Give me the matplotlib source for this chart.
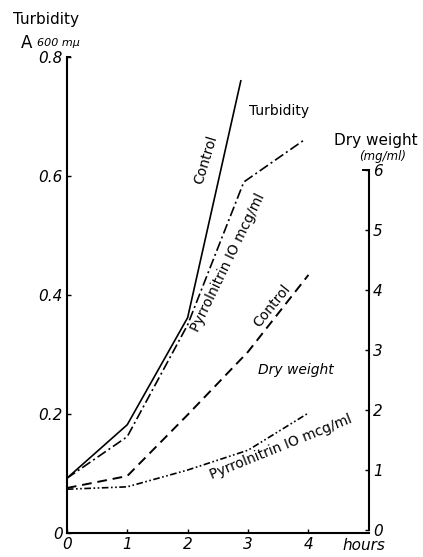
"""
Turbidity and dry weight growth curves, control vs pyrrolnitrin 10 mcg/ml.
Saves out.png.
"""

import matplotlib.pyplot as plt

# turbidity (A 600 mu), left axis
turb_ctrl_h = [0, 1, 2, 2.88]
turb_ctrl = [0.092, 0.182, 0.362, 0.76]
turb_pyr_h = [0, 1, 2, 2.93, 3.92]
turb_pyr = [0.092, 0.162, 0.35, 0.59, 0.66]

# dry weight (mg/ml), right axis
dry_h = [0, 1, 2, 3, 4]
dry_ctrl = [0.70, 0.90, 1.92, 2.97, 4.25]
dry_pyr = [0.68, 0.72, 1.0, 1.33, 1.95]

x_ticks = [0, 1, 2, 3, 4]
left_ticks = [0, 0.2, 0.4, 0.6, 0.8]
left_labels = ["0", "0.2", "0.4", "0.6", "0.8"]
right_ticks = [0, 1, 2, 3, 4, 5, 6]

FONT = "DejaVu Sans"


def main():
    plt.rcParams["font.family"] = FONT
    fig = plt.figure(figsize=(4.23, 5.57), dpi=100)
    ax = fig.add_axes([0.158, 0.043, 0.714, 0.8546])
    ax2 = ax.twinx()

    ax.set_xlim(0, 5)
    ax.set_ylim(0, 0.8)
    ax2.set_ylim(-0.05, 7.88)

    k = "black"
    ax.plot(turb_ctrl_h, turb_ctrl, color=k, lw=1.2)
    ax.plot(turb_pyr_h, turb_pyr, color=k, lw=1.2, dashes=(6, 2, 1.2, 2))
    ax2.plot(dry_h, dry_ctrl, color=k, lw=1.4, dashes=(5, 3))
    ax2.plot(dry_h, dry_pyr, color=k, lw=1.2, dashes=(4, 1.5, 1, 1.5, 1, 1.5))

    # axes look
    for a in (ax, ax2):
        a.spines["top"].set_visible(False)
    ax.spines["right"].set_visible(False)
    ax2.spines["left"].set_visible(False)
    ax2.spines["bottom"].set_visible(False)
    ax.spines["left"].set_linewidth(1.5)
    ax.spines["bottom"].set_linewidth(1.5)
    ax2.spines["right"].set_linewidth(1.5)
    ax2.spines["right"].set_bounds(0, 6)

    ax.set_xticks(x_ticks)
    ax.set_xticklabels([str(t) for t in x_ticks], fontsize=11, style="italic")
    ax.set_yticks(left_ticks)
    ax.set_yticklabels(left_labels, fontsize=11, style="italic")
    ax.tick_params(axis="both", direction="in", length=3, width=1, pad=3)
    ax2.set_yticks(right_ticks)
    ax2.set_yticklabels([str(t) for t in right_ticks], fontsize=11, style="italic")
    ax2.tick_params(axis="y", direction="in", length=3, width=1, pad=3)

    # little hooks on the tops of the vertical axes
    ax.plot([0, 0.06], [0.8, 0.8], color=k, lw=1.4, clip_on=False)
    ax2.plot([5, 4.9], [6, 6], color=k, lw=1.4, clip_on=False)

    # axis titles
    fig.text(0.03, 0.965, "Turbidity", fontsize=11, ha="left", va="center")
    fig.text(0.05, 0.922, "A", fontsize=12, ha="left", va="center")
    fig.text(0.088, 0.922, "600 m\u03bc", fontsize=8, style="italic",
             ha="left", va="center")
    fig.text(0.79, 0.748, "Dry weight", fontsize=11, ha="left", va="center")
    fig.text(0.85, 0.719, "(mg/ml)", fontsize=8.5, style="italic",
             ha="left", va="center")
    fig.text(0.81, 0.02, "hours", fontsize=11, style="italic",
             ha="left", va="center")

    # curve labels (figure pixel coords from the top left)
    def lab(px, py, s, rot, size=10, style="normal"):
        fig.text(px / 423, 1 - py / 557, s, fontsize=size, rotation=rot,
                 ha="center", va="center", style=style,
                 rotation_mode="anchor")

    lab(279, 111, "Turbidity", 0)
    lab(206, 160, "Control", 73)
    lab(228, 263, "Pyrrolnitrin IO mcg/ml", 64)
    lab(272, 306, "Control", 51)
    lab(296, 370, "Dry weight", 0, size=10, style="italic")
    lab(281, 447, "Pyrrolnitrin IO mcg/ml", 22)

    fig.savefig("out.png", dpi=100)
    plt.close(fig)


if __name__ == "__main__":
    main()
